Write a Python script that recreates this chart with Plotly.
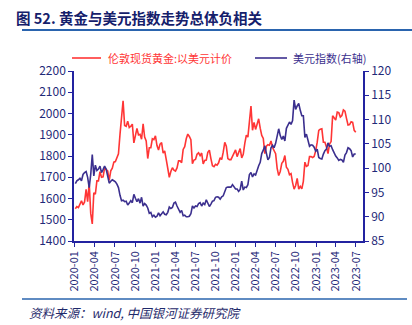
import pandas as pd
import plotly.graph_objects as go

# Weekly (Friday) observations, 2020-01-03 .. 2023-06-30
dates = pd.date_range("2020-01-03", periods=183, freq="W-FRI")

gold = [
    # 2020
    1552, 1562, 1557, 1571, 1589,
    1570, 1584, 1643, 1585,
    1674, 1530, 1480, 1627,
    1620, 1683, 1683, 1726,
    1700, 1702, 1743, 1734, 1730,
    1685, 1730, 1743, 1771,
    1774, 1798, 1810, 1902, 1975,
    2060, 1944, 1940, 1964,
    1934, 1940, 1950, 1862,
    1900, 1930, 1899, 1902, 1879,
    1951, 1889, 1871, 1788,
    1839, 1839, 1881, 1877,
    # 2021
    1895,
    1849, 1828, 1856, 1863,
    1814, 1824, 1784, 1734,
    1700, 1727, 1745, 1733,
    1729, 1744, 1777, 1777, 1769,
    1831, 1844, 1881, 1903,
    1892, 1877, 1764, 1781,
    1784, 1808, 1815, 1802, 1814,
    1763, 1779, 1781, 1817,
    1827, 1788, 1754, 1750,
    1761, 1757, 1768, 1792, 1783,
    1818, 1864, 1846, 1788,
    1783, 1783, 1798, 1811, 1829,
    # 2022
    1797, 1818, 1835, 1791,
    1808, 1859, 1898, 1889,
    1970, 2035, 1921, 1958,
    1925, 1947, 1975, 1931, 1897,
    1883, 1811, 1846, 1853,
    1851, 1871, 1840, 1827,
    1811, 1742, 1708, 1727, 1766,
    1775, 1802, 1747, 1737,
    1712, 1717, 1675, 1644, 1661,
    1695, 1644, 1657, 1645,
    1681, 1771, 1751, 1755,
    1797, 1797, 1793, 1798, 1824,
    # 2023
    1865, 1920, 1926, 1928,
    1865, 1865, 1842, 1811,
    1856, 1868, 1989, 1978, 1969,
    2007, 2004, 1983, 1990,
    2017, 2011, 1977, 1946,
    1948, 1961, 1958, 1921, 1912,
]

dxy = [
    # 2020
    96.8, 97.4, 97.6, 97.9, 97.4,
    98.7, 99.1, 99.3, 98.1,
    96.0, 98.7, 102.8, 98.4,
    100.6, 99.5, 99.8, 100.4,
    99.1, 99.7, 100.4, 99.8, 98.3,
    96.9, 97.3, 97.6, 97.4,
    97.2, 96.7, 96.0, 94.4, 93.3,
    93.4, 93.1, 93.2, 92.4,
    92.8, 93.3, 92.9, 94.6,
    93.8, 93.1, 93.7, 92.8, 94.0,
    92.2, 92.7, 92.4, 91.8,
    90.7, 90.9, 90.0, 90.3,
    # 2021
    89.9,
    90.1, 90.8, 90.2, 90.6,
    91.0, 90.5, 90.4, 90.9,
    92.0, 91.7, 91.9, 92.8,
    93.0, 92.2, 91.6, 90.9, 91.3,
    90.2, 90.3, 90.0, 90.0,
    90.1, 90.6, 92.2, 91.8,
    92.2, 92.1, 92.7, 92.9, 92.2,
    92.8, 92.5, 93.5, 92.7,
    92.1, 92.6, 93.2, 93.3,
    94.0, 94.1, 94.0, 93.6, 94.1,
    94.3, 95.1, 96.0, 96.1,
    96.1, 96.1, 96.6, 96.0, 95.7,
    # 2022
    95.7, 95.2, 95.6, 97.3,
    95.5, 96.1, 96.0, 96.6,
    98.7, 99.1, 98.2, 98.8,
    98.6, 99.8, 100.5, 101.2, 103.0,
    103.7, 104.6, 103.1, 101.7,
    102.2, 104.2, 104.7, 104.2,
    105.1, 106.9, 108.1, 106.7, 105.9,
    106.6, 105.6, 108.2, 108.8,
    109.5, 109.0, 109.8, 114.0, 112.1,
    112.8, 113.3, 111.9, 110.8,
    110.8, 106.3, 107.0, 106.0,
    104.5, 104.8, 104.7, 104.3, 103.5,
    # 2023
    103.9, 102.2, 102.0, 101.9,
    102.9, 103.6, 103.9, 105.2,
    104.5, 104.6, 103.8, 103.1, 102.5,
    102.1, 101.6, 101.8, 101.7,
    101.2, 102.7, 103.2, 104.2,
    104.0, 103.6, 102.3, 102.9, 102.9,
]

gold_name = "伦敦现货黄金:以美元计价"
dxy_name = "美元指数(右轴)"
title_text = "图 52. 黄金与美元指数走势总体负相关"
source_text = "资料来源：wind, 中国银河证券研究院"

RED = "#FF3535"
NAVY = "#3B2F8E"
AXIS = "#2323A0"
TXT = "#1F2A78"
FONT = "Noto Sans CJK SC, Noto Sans, sans-serif"

# plot area in pixels
L, R, T, B = 74, 363, 71, 241
W, H = R - L, B - T


def px(x):
    return (x - L) / W


def py(y):
    return (B - y) / H


fig = go.Figure()
fig.add_trace(go.Scatter(
    x=dates, y=gold, mode="lines", name=gold_name,
    line=dict(color=RED, width=1.6), yaxis="y"))
fig.add_trace(go.Scatter(
    x=dates, y=dxy, mode="lines", name=dxy_name,
    line=dict(color=NAVY, width=1.6), yaxis="y2"))

fig.update_layout(
    width=412, height=325,
    margin=dict(l=L, r=412 - R, t=T, b=325 - B, autoexpand=False),
    paper_bgcolor="white", plot_bgcolor="white",
    font=dict(family=FONT, size=12, color=TXT),
    showlegend=False,
    xaxis=dict(
        type="date", range=["2019-12-28", "2023-08-02"],
        tickformat="%Y-%m", dtick="M3", tick0="2020-01-01",
        tickangle=-90, showgrid=False, zeroline=False, automargin=False,
        showline=True, linecolor=AXIS, linewidth=1.5,
        ticks="outside", ticklen=4, tickcolor=AXIS,
        tickfont=dict(size=11, color=TXT)),
    yaxis=dict(
        range=[1400, 2200], dtick=100, showgrid=False, zeroline=False,
        automargin=False,
        showline=True, linecolor=AXIS, linewidth=1.5,
        ticks="outside", ticklen=4, tickcolor=AXIS,
        tickfont=dict(size=12, color=TXT)),
    yaxis2=dict(
        range=[85, 120], dtick=5, overlaying="y", side="right",
        showgrid=False, zeroline=False, automargin=False,
        showline=True, linecolor=AXIS, linewidth=1.5,
        ticks="outside", ticklen=4, tickcolor=AXIS,
        tickfont=dict(size=12, color=TXT)),
)

# manual legend
for (x0, x1, tx, color, name) in [(72, 101, 106, RED, gold_name),
                                  (255, 287, 291, NAVY, dxy_name)]:
    fig.add_shape(type="line", xref="paper", yref="paper",
                  x0=px(x0), x1=px(x1), y0=py(58), y1=py(58),
                  line=dict(color=color, width=1.6))
    fig.add_annotation(text=name, xref="paper", yref="paper",
                       x=px(tx), y=py(58), showarrow=False,
                       xanchor="left", yanchor="middle",
                       font=dict(size=11, color=color, family=FONT))

# title, rules and source
fig.add_annotation(text=f"<b>{title_text}</b>", xref="paper", yref="paper",
                   x=px(14), y=py(17), showarrow=False,
                   xanchor="left", yanchor="middle",
                   font=dict(size=14.5, color="#15206B", family=FONT))
fig.add_annotation(text=f"<i>{source_text}</i>", xref="paper", yref="paper",
                   x=px(27), y=py(312), showarrow=False,
                   xanchor="left", yanchor="middle",
                   font=dict(size=12.5, color="#1F2A6B", family=FONT))
fig.add_shape(type="line", xref="paper", yref="paper",
              x0=px(22), x1=px(412), y0=py(30), y1=py(30),
              line=dict(color="#2A64AE", width=2))
fig.add_shape(type="line", xref="paper", yref="paper",
              x0=px(22), x1=px(407), y0=py(299), y1=py(299),
              line=dict(color="#2A64AE", width=1.5))

fig.write_html("out.html")
